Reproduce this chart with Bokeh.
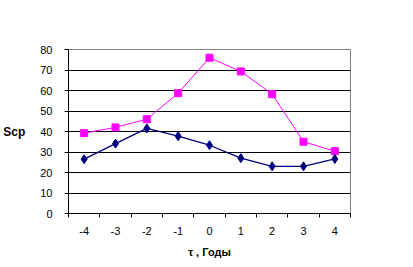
from bokeh.plotting import figure
from bokeh.models import FixedTicker, Range1d
from bokeh.embed import file_html
from bokeh.resources import INLINE

tau = [-4, -3, -2, -1, 0, 1, 2, 3, 4]
series_blue = [26.5, 34.1, 41.5, 37.7, 33.3, 27.0, 23.0, 23.0, 26.6]
series_pink = [39.2, 42.0, 46.0, 58.7, 76.0, 69.3, 58.2, 35.0, 30.4]
y_ticks = [0, 10, 20, 30, 40, 50, 60, 70, 80]
y_label = "Scp"
x_label = "τ , Годы"

FONT = "Liberation Sans"

p = figure(width=413, height=267, output_backend="svg", toolbar_location=None,
           x_range=Range1d(-4.5, 4.5), y_range=Range1d(0, 80),
           min_border_left=67, min_border_right=63, min_border_top=49, min_border_bottom=54)
p.background_fill_color = "white"
p.border_fill_color = "white"
p.outline_line_color = "#808080"
p.outline_line_width = 1

# grid
p.xgrid.visible = False
p.ygrid.ticker = FixedTicker(ticks=y_ticks[1:-1])
p.ygrid.grid_line_color = "black"
p.ygrid.grid_line_width = 1

# x axis
p.xaxis.ticker = FixedTicker(ticks=tau, minor_ticks=[t - 0.5 for t in tau] + [4.5])
p.xaxis.major_label_overrides = {t: str(t) for t in tau}
p.xaxis.major_tick_out = 0
p.xaxis.major_tick_in = 0
p.xaxis.minor_tick_out = 4
p.xaxis.minor_tick_in = 0
p.xaxis.minor_tick_line_color = "black"
p.xaxis.axis_line_color = "black"
p.xaxis.major_label_standoff = 9
p.xaxis.major_label_text_font = FONT
p.xaxis.major_label_text_font_size = "11px"
p.xaxis.major_label_text_color = "black"
p.xaxis.axis_label = x_label
p.xaxis.axis_label_standoff = 8
p.xaxis.axis_label_text_font = FONT
p.xaxis.axis_label_text_font_size = "11px"
p.xaxis.axis_label_text_font_style = "bold"
p.xaxis.axis_label_text_color = "black"

# y axis
p.yaxis.ticker = FixedTicker(ticks=y_ticks)
p.yaxis.major_tick_out = 4
p.yaxis.major_tick_in = 0
p.yaxis.minor_tick_line_color = None
p.yaxis.axis_line_color = "black"
p.yaxis.major_tick_line_color = "black"
p.yaxis.major_label_standoff = 12
p.yaxis.major_label_text_font = FONT
p.yaxis.major_label_text_font_size = "11px"
p.yaxis.major_label_text_color = "black"
p.yaxis.axis_label = y_label
p.yaxis.axis_label_standoff = 12
p.yaxis.axis_label_text_font = FONT
p.yaxis.axis_label_text_font_size = "12px"
p.yaxis.axis_label_text_font_style = "bold"
p.yaxis.axis_label_text_color = "black"
try:
    p.yaxis.axis_label_orientation = "horizontal"
except Exception:
    pass

# series
p.line(tau, series_pink, line_color="#FF00FF", line_width=1)
p.scatter(tau, series_pink, marker="square", size=7, fill_color="#FF00FF", line_color="#FF00FF")
p.line(tau, series_blue, line_color="#000080", line_width=1.3)
p.scatter(tau, series_blue, marker="diamond", size=9, fill_color="#000080", line_color="#000080")

open("out.html", "w").write(file_html(p, INLINE))
